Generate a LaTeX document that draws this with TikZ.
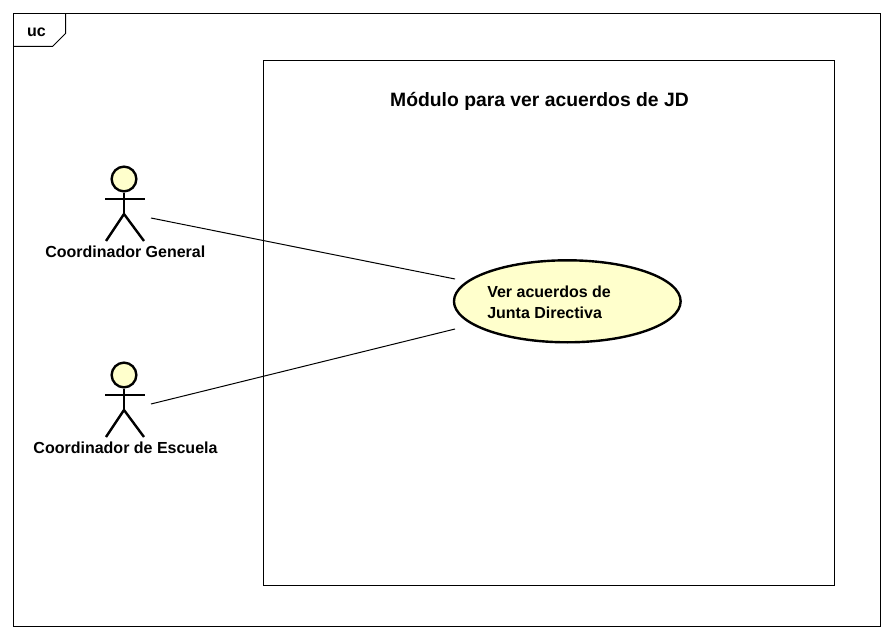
\documentclass[tikz,border=0pt]{standalone}
\usepackage{fontspec}
\usetikzlibrary{shapes.geometric}
\setmainfont{Liberation Sans}
\definecolor{ucfill}{HTML}{FFFFCC}
\tikzset{
  px/.style={x=0.75pt,y=-0.75pt},
  frameline/.style={draw=black,line width=0.75pt},
  actorline/.style={draw=black,line width=1.8pt},
  lbl/.style={font=\fontsize{12}{15}\selectfont\bfseries,inner sep=0pt,text=black},
  assoc/.style={draw=black,line width=0.75pt},
}
\begin{document}
\begin{tikzpicture}[px]
\useasboundingbox[fill=white] (0,0) rectangle (893,638);
\draw[frameline] (13.5,13.5) rectangle (880.5,626);
\draw[frameline] (13.5,46.5) -- (52.5,46.5) -- (65.5,33.5) -- (65.5,13.5);
\node[lbl] (uc) at (36.5,32) {uc};
\node[draw=black,line width=0.75pt,minimum width=428pt,minimum height=394pt,inner sep=0pt] (sys) at (549,323) {};
\node[lbl,font=\fontsize{14.5}{17}\selectfont\bfseries] (title) at (539.5,101) {Módulo para ver acuerdos de JD};
\node[draw=black,line width=1.8pt,fill=ucfill,ellipse,minimum width=170pt,minimum height=61.5pt,inner sep=0pt] (uc1) at (567.3,301.3) {};
\node[lbl,align=left,anchor=west,font=\fontsize{12}{15.5}\selectfont\bfseries] (uc1t) at (487,302) {Ver acuerdos de\\Junta Directiva};
% actor 1
\node[draw=black,line width=1.8pt,fill=ucfill,circle,minimum size=18.5pt,inner sep=0pt] (h1) at (124,179) {};
\coordinate (a1w) at (124,214);
\draw[actorline] (h1.south) -- (a1w);
\draw[actorline] (105,199) -- (144.5,199);
\draw[actorline] (106,241) -- (a1w) -- (144,241);
\node[lbl] (a1) at (125.3,251.5) {Coordinador General};
\coordinate (a1e) at (151,218);
% actor 2
\node[draw=black,line width=1.8pt,fill=ucfill,circle,minimum size=18.5pt,inner sep=0pt] (h2) at (124,375) {};
\coordinate (a2w) at (124,410);
\draw[actorline] (h2.south) -- (a2w);
\draw[actorline] (105,395) -- (144.5,395);
\draw[actorline] (106,437) -- (a2w) -- (144,437);
\node[lbl] (a2) at (125.5,447.5) {Coordinador de Escuela};
\coordinate (a2e) at (151,404);
\coordinate (u1a) at (455,279);
\coordinate (u1b) at (455,329);
\draw[assoc] (a1e) -- (u1a);
\draw[assoc] (a2e) -- (u1b);
\end{tikzpicture}
\end{document}
